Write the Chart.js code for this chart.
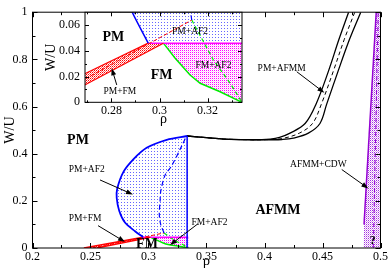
<!DOCTYPE html>
<html>
<head>
<meta charset="utf-8">
<script src="https://cdn.jsdelivr.net/npm/chart.js@4.4.1/dist/chart.umd.min.js"></script>
<style>
  html, body { margin: 0; padding: 0; background: #fff; }
  #wrap { position: relative; width: 390px; height: 276px; }
  #main { position: absolute; left: 0; top: 0; }
  #inset { position: absolute; left: 40px; top: 0; }
</style>
</head>
<body>
<div id="wrap">
  <canvas id="main" width="390" height="276"></canvas>
  <canvas id="inset" width="210" height="130"></canvas>
</div>
<script>
// ---- axes (main) ----
const xTicks = [0.2, 0.25, 0.3, 0.35, 0.4, 0.45, 0.5];
const xTickLabels = ['0.2', '0.25', '0.3', '0.35', '0.4', '0.45', '0.5'];
const xMinor = [0.225, 0.275, 0.325, 0.375, 0.425, 0.475];
const yTicks = [0, 0.2, 0.4, 0.6, 0.8, 1];
const yTickLabels = ['0', '0.2', '0.4', '0.6', '0.8', '1'];
const yMinor = [0.1, 0.3, 0.5, 0.7, 0.9];

// ---- axes (inset) ----
const insetXTicks = [0.28, 0.3, 0.32];
const insetXTickLabels = ['0.28', '0.3', '0.32'];
const insetXMinor = [0.27, 0.29, 0.31, 0.33];
const insetYTicks = [0, 0.02, 0.04, 0.06];
const insetYTickLabels = ['0', '0.02', '0.04', '0.06'];
const insetYMinor = [0.01, 0.03, 0.05];

// ---- PM+AF2 (blue) ----
const af2EdgeRho = [0.2953, 0.2884, 0.2797, 0.2748, 0.2726, 0.2731, 0.2783, 0.2869, 0.2984, 0.3157, 0.3333];
const af2EdgeW   = [0.046, 0.071, 0.108, 0.157, 0.212, 0.253, 0.322, 0.376, 0.425, 0.459, 0.475];
const af2MidRho  = [0.3134, 0.3105, 0.3093, 0.3100, 0.3105, 0.3142, 0.3200, 0.3286, 0.3320];
const af2MidW    = [0.064, 0.100, 0.143, 0.200, 0.239, 0.308, 0.349, 0.432, 0.468];
const af2WallRho = [0.3333, 0.3333];
const af2WallW   = [0, 0.475];
const af2AreaRho = [0.2953, 0.2884, 0.2797, 0.2748, 0.2726, 0.2731, 0.2783, 0.2869, 0.2984, 0.3157, 0.3333, 0.3343, 0.3343];
const af2AreaW   = [0.046, 0.071, 0.108, 0.157, 0.212, 0.253, 0.322, 0.376, 0.425, 0.459, 0.475, 0.475, 0.046];

// ---- PM+FM (red) ----
const fmUpperRho = [0.2443, 0.2953];
const fmUpperW   = [0, 0.046];
const fmLowerRho = [0.2554, 0.3016];
const fmLowerW   = [0, 0.046];
const fmMidRho   = [0.2516, 0.3134];
const fmMidW     = [0, 0.064];
const fmAreaRho  = [0.2443, 0.2953, 0.3016, 0.2554];
const fmAreaW    = [0, 0.046, 0.046, 0];

// ---- FM+AF2 (magenta / green) ----
const fmAf2TopRho = [0.2953, 0.3343];
const fmAf2TopW   = [0.046, 0.046];
const fmEdgeRho   = [0.3016, 0.3065, 0.3127, 0.3169, 0.3252, 0.3343];
const fmEdgeW     = [0.046, 0.0342, 0.0212, 0.0148, 0.0082, 0];
const fmSpinRho   = [0.3134, 0.3224, 0.3294, 0.3343];
const fmSpinW     = [0.064, 0.0329, 0.0148, 0];
const fmAf2AreaRho = [0.3016, 0.3065, 0.3127, 0.3169, 0.3252, 0.3343, 0.3343];
const fmAf2AreaW   = [0.046, 0.0342, 0.0212, 0.0148, 0.0082, 0, 0.046];

// ---- PM+AFMM (black) ----
const afmmLeftRho  = [0.3333, 0.35, 0.365, 0.39, 0.405, 0.413, 0.422, 0.435, 0.4444, 0.455, 0.4642, 0.4725];
const afmmLeftW    = [0.475, 0.468, 0.462, 0.459, 0.462, 0.469, 0.487, 0.528, 0.61, 0.748, 0.885, 1.0];
const afmmMidRho   = [0.3333, 0.35, 0.365, 0.39, 0.405, 0.416, 0.43, 0.4414, 0.449, 0.4592, 0.4688, 0.4778];
const afmmMidW     = [0.475, 0.468, 0.462, 0.459, 0.460, 0.465, 0.487, 0.528, 0.61, 0.748, 0.885, 1.0];
const afmmRightRho = [0.3333, 0.35, 0.365, 0.39, 0.405, 0.415, 0.4248, 0.4378, 0.4478, 0.4536, 0.4633, 0.4733, 0.483];
const afmmRightW   = [0.475, 0.468, 0.462, 0.459, 0.459, 0.460, 0.466, 0.487, 0.528, 0.61, 0.748, 0.885, 1.0];

// ---- AFMM+CDW (purple) ----
const cdwEdgeRho = [0.4858, 0.4963];
const cdwEdgeW   = [0.1, 1.0];
const cdwMidRho  = [0.4938, 0.498];
const cdwMidW    = [0, 1.0];
const cdwAreaRho = [0.4855, 0.4858, 0.4963, 0.5, 0.5];
const cdwAreaW   = [0, 0.1, 1.0, 1.0, 0];

const SERIF = "'Liberation Serif', 'Times New Roman', serif";
Chart.defaults.font.family = SERIF;
Chart.defaults.color = '#000';

function pts(xs, ys) { return xs.map((x, i) => ({x: x, y: ys[i]})); }

function line(xs, ys, color, width, dash, tension) {
    return {
        data: pts(xs, ys), borderColor: color, borderWidth: width, borderDash: dash || [],
        pointRadius: 0, fill: false, tension: tension || 0, order: 0
    };
}

function area(xs, ys, fillStyle) {
    return {
        data: pts(xs, ys), borderColor: 'rgba(0,0,0,0)', borderWidth: 1, backgroundColor: fillStyle,
        pointRadius: 0, fill: 'shape', tension: 0, order: 5
    };
}

// dotted xmgrace-like fill patterns
function dots(ctx, size, cells) {
    const c = document.createElement('canvas');
    c.width = size; c.height = size;
    const g = c.getContext('2d');
    cells.forEach(([x, y, col]) => { g.fillStyle = col; g.fillRect(x, y, 1, 1); });
    return ctx.createPattern(c, 'repeat');
}

function patterns(ctx) {
    return {
        blue: dots(ctx, 3, [[1, 1, '#6666ff']]),
        red: dots(ctx, 2, [[0, 0, '#ff0000'], [1, 1, '#ff7070']]),
        magenta: dots(ctx, 2, [[0, 0, '#ff00ff'], [1, 1, '#ffd0ff']]),
        purple: dots(ctx, 2, [[0, 0, '#a030e0'], [1, 1, '#e0a8f0']])
    };
}

// inward ticks on all sides, frame, labels and arrows
function makeDecor(cfg) {
    return {
        id: 'decor',
        beforeDraw(chart) {
            if (!cfg.whiteArea) return;
            const a = chart.chartArea;
            chart.ctx.save();
            chart.ctx.fillStyle = '#fff';
            chart.ctx.fillRect(a.left, a.top, a.right - a.left, a.bottom - a.top);
            chart.ctx.restore();
        },
        afterDraw(chart) {
            const ctx = chart.ctx;
            const a = chart.chartArea;
            const sx = chart.scales.x, sy = chart.scales.y;
            ctx.save();
            ctx.strokeStyle = '#000';
            ctx.lineWidth = 1;
            const seg = (x1, y1, x2, y2) => { ctx.beginPath(); ctx.moveTo(x1, y1); ctx.lineTo(x2, y2); ctx.stroke(); };
            const xt = (v, len) => { const p = Math.round(sx.getPixelForValue(v)) + 0.5; seg(p, a.bottom, p, a.bottom - len); seg(p, a.top, p, a.top + len); };
            const yt = (v, len) => { const p = Math.round(sy.getPixelForValue(v)) + 0.5; seg(a.left, p, a.left + len, p); seg(a.right, p, a.right - len, p); };
            cfg.xMajor.forEach(v => xt(v, cfg.major));
            cfg.xMinor.forEach(v => xt(v, cfg.minor));
            cfg.yMajor.forEach(v => yt(v, cfg.major));
            cfg.yMinor.forEach(v => yt(v, cfg.minor));
            ctx.strokeRect(a.left, a.top, a.right - a.left, a.bottom - a.top);

            ctx.textAlign = 'center';
            ctx.textBaseline = 'middle';
            ctx.fillStyle = '#000';
            cfg.notes.forEach(n => {
                ctx.font = (n.bold ? 'bold ' : '') + n.size + 'px ' + SERIF;
                ctx.fillText(n.text, sx.getPixelForValue(n.x), sy.getPixelForValue(n.y));
            });
            cfg.arrows.forEach(([x1, y1, x2, y2]) => {
                const p1 = [sx.getPixelForValue(x1), sy.getPixelForValue(y1)];
                const p2 = [sx.getPixelForValue(x2), sy.getPixelForValue(y2)];
                const ang = Math.atan2(p2[1] - p1[1], p2[0] - p1[0]);
                seg(p1[0], p1[1], p2[0] - 4 * Math.cos(ang), p2[1] - 4 * Math.sin(ang));
                ctx.beginPath();
                ctx.moveTo(p2[0], p2[1]);
                ctx.lineTo(p2[0] - 7 * Math.cos(ang) + 2.5 * Math.sin(ang), p2[1] - 7 * Math.sin(ang) - 2.5 * Math.cos(ang));
                ctx.lineTo(p2[0] - 7 * Math.cos(ang) - 2.5 * Math.sin(ang), p2[1] - 7 * Math.sin(ang) + 2.5 * Math.cos(ang));
                ctx.closePath();
                ctx.fill();
            });
            ctx.restore();
        }
    };
}

function axis(min, max, ticks, labels, fixed, title, titlePad, tickPad, fontSize, horizontal) {
    return {
        type: 'linear', min: min, max: max,
        grid: {display: false, drawTicks: false},
        border: {display: false},
        afterBuildTicks: s => { s.ticks = ticks.map(v => ({value: v})); },
        afterFit: s => { if (horizontal) s.height = fixed; else s.width = fixed; },
        ticks: {
            autoSkip: false, maxRotation: 0, padding: tickPad,
            font: {size: fontSize},
            callback: (v, i) => labels[i]
        },
        title: {display: true, text: title, padding: titlePad, font: {size: fontSize + 2}}
    };
}

// ---------------- main chart ----------------
const mainCtx = document.getElementById('main').getContext('2d');
const pm = patterns(mainCtx);

new Chart(mainCtx, {
    type: 'line',
    data: {
        datasets: [
            line(af2EdgeRho, af2EdgeW, '#0000ff', 1.8, null, 0.3),
            line(af2MidRho, af2MidW, '#0000ff', 1.2, [5, 3], 0.3),
            line(af2WallRho, af2WallW, '#0000ff', 1.5),
            line(fmUpperRho, fmUpperW, '#ff0000', 1.5),
            line(fmLowerRho, fmLowerW, '#ff0000', 1.5),
            line(fmMidRho, fmMidW, '#ff0000', 1, [4, 2]),
            line(fmAf2TopRho, fmAf2TopW, '#ff00ff', 1.5),
            line(fmEdgeRho, fmEdgeW, '#00ee00', 1.5, null, 0.3),
            line(fmSpinRho, fmSpinW, '#00ee00', 1.2, [4, 3]),
            line(afmmLeftRho, afmmLeftW, '#000000', 1.3, null, 0.35),
            line(afmmMidRho, afmmMidW, '#000000', 1, [4, 3], 0.35),
            line(afmmRightRho, afmmRightW, '#000000', 1.3, null, 0.35),
            line(cdwEdgeRho, cdwEdgeW, '#9400d3', 1.5),
            line(cdwMidRho, cdwMidW, '#9400d3', 1, [4, 3]),
            area(af2AreaRho, af2AreaW, pm.blue),
            area(fmAreaRho, fmAreaW, pm.red),
            area(fmAf2AreaRho, fmAf2AreaW, pm.magenta),
            area(cdwAreaRho, cdwAreaW, pm.purple)
        ]
    },
    options: {
        responsive: false,
        animation: false,
        events: [],
        layout: {padding: {top: 5.5, right: 9.5, left: 0, bottom: 0}},
        scales: {
            x: axis(0.2, 0.5, xTicks, xTickLabels, 28, 'ρ', {top: 0, bottom: 6}, 2, 12, true),
            y: axis(0, 1, yTicks, yTickLabels, 32.5, 'W/U', {top: 2, bottom: 0}, 5, 12, false)
        },
        plugins: {legend: {display: false}, tooltip: {enabled: false}}
    },
    plugins: [makeDecor({
        xMajor: xTicks, xMinor: xMinor, yMajor: yTicks, yMinor: yMinor, major: 5, minor: 3,
        notes: [
            {text: 'PM', x: 0.2392, y: 0.458, bold: true, size: 14},
            {text: 'AFMM', x: 0.4116, y: 0.161, bold: true, size: 14},
            {text: 'FM', x: 0.2987, y: 0.0165, bold: true, size: 14},
            {text: '?', x: 0.4933, y: 0.030, bold: true, size: 12},
            {text: 'PM+AF2', x: 0.2467, y: 0.333, size: 9.5},
            {text: 'PM+FM', x: 0.2453, y: 0.124, size: 9.5},
            {text: 'FM+AF2', x: 0.3526, y: 0.107, size: 9.5},
            {text: 'PM+AFMM', x: 0.4148, y: 0.762, size: 9.5},
            {text: 'AFMM+CDW', x: 0.4464, y: 0.353, size: 9.5}
        ],
        arrows: [
            [0.2582, 0.2886, 0.2866, 0.2268],
            [0.2565, 0.0948, 0.2797, 0.026],
            [0.3427, 0.103, 0.3185, 0.0124],
            [0.4278, 0.7476, 0.4516, 0.6586],
            [0.4666, 0.3328, 0.4895, 0.2528]
        ]
    })]
});

// ---------------- inset ----------------
const insetCtx = document.getElementById('inset').getContext('2d');
const pi = patterns(insetCtx);

new Chart(insetCtx, {
    type: 'line',
    data: {
        datasets: [
            line(af2EdgeRho, af2EdgeW, '#0000ff', 1.5, null, 0.3),
            line(af2MidRho, af2MidW, '#0000ff', 1.2, [5, 3], 0.3),
            line(fmUpperRho, fmUpperW, '#ff0000', 1.2),
            line(fmLowerRho, fmLowerW, '#ff0000', 1.2),
            line(fmMidRho, fmMidW, '#ff0000', 1, [4, 2]),
            line(fmAf2TopRho, fmAf2TopW, '#ff00ff', 1.5),
            line(fmEdgeRho, fmEdgeW, '#00ee00', 1.5),
            line(fmSpinRho, fmSpinW, '#00ee00', 1.2, [4, 3]),
            area(af2AreaRho, af2AreaW, pi.blue),
            area(fmAreaRho, fmAreaW, pi.red),
            area(fmAf2AreaRho, fmAf2AreaW, pi.magenta)
        ]
    },
    options: {
        responsive: false,
        animation: false,
        events: [],
        layout: {padding: {top: 12.3, right: 8, left: 0, bottom: 0}},
        scales: {
            x: axis(0.269, 0.3343, insetXTicks, insetXTickLabels, 27.7, 'ρ', {top: 0, bottom: 2.5}, 1.5, 12, true),
            y: axis(0, 0.07, insetYTicks, insetYTickLabels, 45, 'W/U', {top: 3, bottom: 0}, 5, 12, false)
        },
        plugins: {legend: {display: false}, tooltip: {enabled: false}}
    },
    plugins: [makeDecor({
        whiteArea: true,
        xMajor: insetXTicks, xMinor: insetXMinor, yMajor: insetYTicks, yMinor: insetYMinor, major: 4, minor: 2,
        notes: [
            {text: 'PM', x: 0.2808, y: 0.0506, bold: true, size: 14},
            {text: 'FM', x: 0.3009, y: 0.0207, bold: true, size: 14},
            {text: 'PM+AF2', x: 0.3127, y: 0.0549, size: 9.5},
            {text: 'FM+AF2', x: 0.3224, y: 0.029, size: 9.5},
            {text: 'PM+FM', x: 0.2835, y: 0.0082, size: 9.5}
        ],
        arrows: [
            [0.2822, 0.0135, 0.2801, 0.0265]
        ]
    })]
});
</script>
</body>
</html>
